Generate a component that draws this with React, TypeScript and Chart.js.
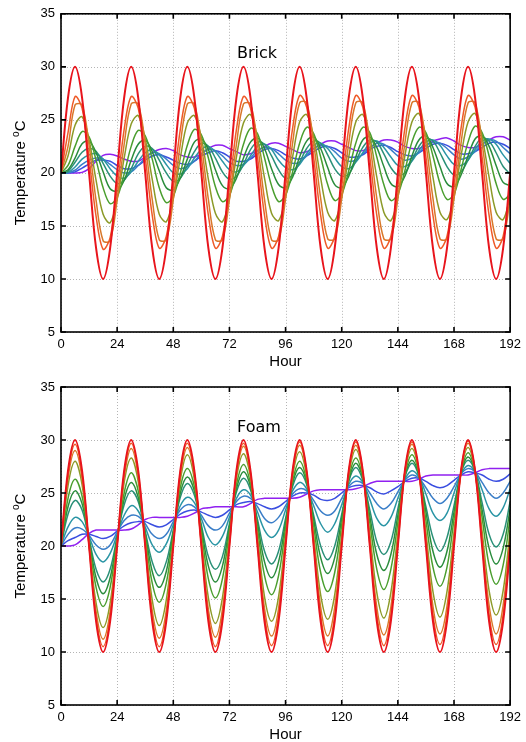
import React, { useEffect, useRef } from "react";
import { Chart, registerables } from "chart.js";

Chart.register(...registerables);

// ---------- data ----------
const HOURS = [0,3,6,9,12,15,18,21,24,27,30,33,36,39,42,45,48,51,54,57,60,63,66,69,72,75,78,81,84,87,90,93,96,99,102,105,108,111,114,117,120,123,126,129,132,135,138,141,144,147,150,153,156,159,162,165,168,171,174,177,180,183,186,189,192];
const X_TICKS = [0,24,48,72,96,120,144,168,192];
const Y_TICKS = [5,10,15,20,25,30,35];

const SURFACE = [20,27.1,30,27.1,20,12.9,10,12.9, 20,27.1,30,27.1,20,12.9,10,12.9, 20,27.1,30,27.1,20,12.9,10,12.9, 20,27.1,30,27.1,20,12.9,10,12.9, 20,27.1,30,27.1,20,12.9,10,12.9, 20,27.1,30,27.1,20,12.9,10,12.9, 20,27.1,30,27.1,20,12.9,10,12.9, 20,27.1,30,27.1,20,12.9,10,12.9, 20];

// Brick layers (surface -> deepest)
const BRICK_1 = [20,23.8,27.2,26.1,21.4,15.9,12.8,13.9, 18.6,24.1,27.2,26.1,21.5,16.0,12.9,14.0, 18.6,24.1,27.2,26.1,21.5,16.0,12.9,14.0, 18.6,24.1,27.2,26.1,21.5,16.0,12.9,14.0, 18.7,24.2,27.3,26.2,21.5,16.0,12.9,14.0, 18.7,24.2,27.3,26.2,21.5,16.0,12.9,14.0, 18.7,24.2,27.3,26.2,21.5,16.0,12.9,14.0, 18.7,24.2,27.3,26.2,21.5,16.0,12.9,14.0, 18.7];
const BRICK_2 = [20,22.5,26.4,26.4,22.6,17.4,13.6,13.6, 17.5,22.7,26.5,26.5,22.7,17.5,13.7,13.7, 17.5,22.7,26.5,26.5,22.7,17.5,13.7,13.7, 17.5,22.7,26.5,26.5,22.7,17.5,13.7,13.7, 17.6,22.8,26.6,26.6,22.8,17.6,13.8,13.8, 17.6,22.8,26.6,26.6,22.8,17.6,13.8,13.8, 17.6,22.8,26.6,26.6,22.8,17.6,13.8,13.8, 17.6,22.8,26.6,26.6,22.8,17.6,13.8,13.8, 17.6];
const BRICK_3 = [20,21.6,24.5,25.3,23.1,19.3,16.1,15.3, 17.5,21.4,24.6,25.4,23.2,19.4,16.1,15.4, 17.6,21.4,24.7,25.4,23.3,19.4,16.2,15.4, 17.6,21.5,24.7,25.5,23.3,19.5,16.2,15.5, 17.7,21.5,24.8,25.5,23.4,19.5,16.3,15.5, 17.7,21.5,24.8,25.5,23.4,19.6,16.3,15.5, 17.7,21.6,24.8,25.6,23.4,19.6,16.3,15.6, 17.7,21.6,24.8,25.6,23.4,19.6,16.3,15.6, 17.8];
const BRICK_4 = [20,20.7,22.5,23.9,23.4,21.2,18.6,17.1, 17.7,19.9,22.5,24.0,23.5,21.3,18.6,17.2, 17.8,20.0,22.6,24.1,23.6,21.4,18.7,17.3, 17.9,20.1,22.7,24.2,23.7,21.4,18.8,17.3, 17.9,20.1,22.8,24.3,23.7,21.5,18.9,17.4, 18.0,20.2,22.8,24.3,23.8,21.5,18.9,17.4, 18.0,20.2,22.9,24.3,23.8,21.6,19.0,17.5, 18.0,20.3,22.9,24.4,23.8,21.6,19.0,17.5, 18.0];
const BRICK_5 = [20,20.3,21.4,22.75,23.0,21.9,20.1,18.5, 18.3,19.3,21.2,22.7,23.1,22.0,20.2,18.6, 18.4,19.5,21.3,22.9,23.2,22.2,20.3,18.8, 18.5,19.5,21.4,22.9,23.3,22.3,20.4,18.9, 18.6,19.6,21.5,23.0,23.4,22.3,20.5,18.9, 18.6,19.7,21.5,23.1,23.4,22.4,20.6,19.0, 18.7,19.7,21.6,23.1,23.5,22.4,20.6,19.0, 18.7,19.8,21.6,23.2,23.5,22.5,20.7,19.1, 18.8];
const BRICK_6 = [20,20.15,21.0,21.95,22.3,22.05,20.9,19.7, 19.0,19.3,20.4,21.8,22.5,22.3,21.2,20.0, 19.2,19.5,20.7,22.0,22.8,22.5,21.4,20.1, 19.4,19.7,20.8,22.2,22.9,22.7,21.6,20.3, 19.5,19.8,21.0,22.3,23.0,22.8,21.7,20.4, 19.7,19.9,21.1,22.4,23.1,22.9,21.8,20.5, 19.8,20.0,21.2,22.5,23.2,23.0,21.9,20.6, 19.8,20.1,21.2,22.5,23.3,23.0,21.9,20.6, 19.9];
const BRICK_7 = [20,20.05,20.55,21.3,21.7,21.8,21.3,20.4, 19.7,19.5,20.1,21.1,21.9,22.2,21.7,20.8, 20.0,19.9,20.4,21.4,22.2,22.5,22.0,21.1, 20.3,20.1,20.7,21.6,22.5,22.7,22.2,21.2, 20.5,20.3,20.8,21.8,22.6,22.8,22.3,21.4, 20.6,20.4,21.0,21.9,22.8,23.0,22.4,21.5, 20.7,20.6,21.1,22.1,22.9,23.1,22.6,21.6, 20.8,20.7,21.2,22.2,23.0,23.2,22.7,21.7, 20.9];
const BRICK_8 = [20,20.02,20.25,20.8,21.2,21.4,21.3,20.8, 20.3,20.0,20.1,20.7,21.4,21.9,21.8,21.3, 20.7,20.4,20.6,21.1,21.8,22.2,22.1,21.6, 21.0,20.7,20.8,21.4,22.1,22.4,22.3,21.8, 21.2,20.9,21.0,21.6,22.3,22.6,22.5,22.0, 21.4,21.1,21.2,21.8,22.4,22.8,22.7,22.2, 21.6,21.2,21.4,21.9,22.6,22.9,22.8,22.3, 21.7,21.3,21.5,22.0,22.7,23.1,23.0,22.4, 21.8];
const BRICK_9 = [20,20.0,20.1,20.45,20.85,21.2,21.2,21.1, 20.7,20.4,20.4,20.7,21.2,21.6,21.7,21.5, 21.2,20.9,20.8,21.1,21.6,21.9,22.1,21.9, 21.5,21.1,21.1,21.3,21.8,22.2,22.3,22.1, 21.7,21.4,21.3,21.6,22.0,22.4,22.5,22.3, 21.9,21.5,21.5,21.7,22.2,22.5,22.6,22.4, 22.0,21.7,21.6,21.9,22.3,22.7,22.8,22.6, 22.2,21.8,21.8,22.0,22.4,22.8,22.9,22.7, 22.3];
const BRICK_10 = [20,20,20,20.05,20.4,21.1,21.65,21.75, 21.6,21.3,21.1,21.1,21.5,21.9,22.2,22.3, 22.1,21.7,21.5,21.5,21.8,22.3,22.6,22.6, 22.3,22.0,21.7,21.8,22.1,22.5,22.8,22.8, 22.5,22.2,21.9,22.0,22.3,22.7,23.0,23.0, 22.7,22.4,22.1,22.1,22.4,22.8,23.1,23.1, 22.9,22.5,22.3,22.3,22.6,23.0,23.2,23.3, 23.0,22.6,22.4,22.4,22.7,23.1,23.4,23.4, 23.1];

// Foam layers (surface -> deepest)
const FOAM_1 = [20,26.8,29.6,26.8,20.0,13.3,10.5,13.3, 20.1,26.8,29.7,26.9,20.1,13.3,10.5,13.3, 20.1,26.9,29.7,26.9,20.1,13.4,10.5,13.4, 20.1,26.9,29.7,26.9,20.2,13.4,10.6,13.4, 20.2,27.0,29.8,27.0,20.2,13.4,10.6,13.4, 20.2,27.0,29.8,27.0,20.2,13.5,10.6,13.5, 20.2,27.0,29.8,27.0,20.3,13.5,10.7,13.5, 20.3,27.1,29.9,27.1,20.3,13.5,10.7,13.5, 20.3];
const FOAM_2 = [20,26.4,29.0,26.4,20.1,13.8,11.2,13.8, 20.2,26.5,29.2,26.6,20.2,13.9,11.3,13.9, 20.3,26.6,29.3,26.7,20.3,14.0,11.4,14.0, 20.4,26.7,29.4,26.8,20.4,14.1,11.5,14.1, 20.5,26.8,29.5,26.9,20.5,14.2,11.5,14.2, 20.5,26.9,29.5,26.9,20.6,14.2,11.6,14.2, 20.6,27.0,29.6,27.0,20.7,14.3,11.7,14.3, 20.7,27.0,29.7,27.1,20.7,14.4,11.7,14.4, 20.7];
const FOAM_3 = [20,25.7,28.0,25.8,20.2,14.6,12.3,14.6, 20.3,26.0,28.3,26.1,20.5,14.9,12.5,14.9, 20.5,26.2,28.6,26.3,20.7,15.1,12.7,15.1, 20.7,26.4,28.7,26.5,20.9,15.2,12.9,15.2, 20.9,26.6,28.9,26.6,21.0,15.4,13.1,15.4, 21.1,26.7,29.1,26.8,21.2,15.6,13.2,15.6, 21.2,26.9,29.2,26.9,21.3,15.7,13.3,15.7, 21.3,27.0,29.3,27.0,21.4,15.8,13.5,15.8, 21.5];
const FOAM_4 = [20,24.5,26.3,24.7,20.4,16.1,14.3,16.1, 20.6,25.0,26.9,25.2,20.9,16.5,14.7,16.5, 21.0,25.5,27.3,25.6,21.3,16.9,15.1,16.9, 21.4,25.8,27.7,25.9,21.6,17.2,15.4,17.2, 21.7,26.1,28.0,26.2,21.9,17.5,15.7,17.5, 22.0,26.4,28.3,26.5,22.2,17.8,15.9,17.8, 22.2,26.7,28.6,26.8,22.4,18.0,16.2,18.0, 22.5,26.9,28.8,27.0,22.7,18.2,16.4,18.2, 22.7];
const FOAM_5 = [20,23.7,25.2,24.0,20.6,17.0,15.5,17.0, 20.7,24.4,26.0,24.6,21.2,17.6,16.1,17.6, 21.3,25.0,26.5,25.2,21.7,18.1,16.6,18.1, 21.8,25.4,27.0,25.6,22.1,18.5,17.0,18.5, 22.2,25.9,27.4,26.0,22.5,18.9,17.4,18.9, 22.6,26.2,27.8,26.4,22.8,19.2,17.7,19.2, 22.9,26.6,28.1,26.7,23.2,19.5,18.0,19.5, 23.2,26.9,28.4,27.0,23.4,19.8,18.3,19.8, 23.5];
const FOAM_6 = [20,23.0,24.3,23.4,20.7,17.8,16.6,17.8, 20.9,23.9,25.2,24.2,21.4,18.5,17.2,18.5, 21.5,24.6,25.9,24.8,22.0,19.0,17.8,19.0, 22.1,25.1,26.4,25.3,22.5,19.5,18.3,19.5, 22.6,25.6,26.9,25.8,22.9,20.0,18.7,20.0, 23.0,26.1,27.4,26.2,23.4,20.4,19.2,20.4, 23.5,26.5,27.8,26.6,23.7,20.8,19.5,20.8, 23.8,26.9,28.1,27.0,24.1,21.1,19.9,21.1, 24.2];
const FOAM_7 = [20,21.8,22.7,22.3,20.9,19.2,18.5,19.3, 21.1,22.9,23.8,23.3,21.8,20.1,19.4,20.2, 22.0,23.8,24.6,24.1,22.6,20.8,20.1,20.9, 22.7,24.5,25.3,24.8,23.2,21.5,20.8,21.5, 23.4,25.2,26.0,25.4,23.8,22.1,21.3,22.1, 23.9,25.8,26.6,26.0,24.4,22.6,21.9,22.7, 24.5,26.3,27.1,26.5,24.9,23.1,22.4,23.1, 25.0,26.8,27.6,27.0,25.3,23.5,22.8,23.6, 25.4];
const FOAM_8 = [20,21.1,21.7,21.6,21.0,20.1,19.7,20.1, 21.3,22.4,22.9,22.8,22.1,21.1,20.7,21.1, 22.3,23.4,23.9,23.7,22.9,21.9,21.5,21.9, 23.1,24.2,24.7,24.5,23.7,22.6,22.2,22.7, 23.8,24.9,25.4,25.2,24.3,23.3,22.9,23.3, 24.5,25.6,26.1,25.9,25.0,24.0,23.5,24.0, 25.1,26.2,26.7,26.4,25.5,24.5,24.0,24.5, 25.6,26.8,27.3,27.0,26.0,25.0,24.5,25.0, 26.1];
const FOAM_9 = [20,20.5,20.8,21.1,21.1,20.9,20.7,20.9, 21.4,21.9,22.2,22.3,22.3,22.0,21.8,22.0, 22.5,23.0,23.3,23.4,23.2,22.9,22.7,22.9, 23.4,23.9,24.1,24.2,24.0,23.7,23.5,23.7, 24.2,24.7,25.0,25.0,24.8,24.4,24.3,24.5, 25.0,25.5,25.7,25.7,25.5,25.1,24.9,25.2, 25.6,26.1,26.4,26.4,26.1,25.7,25.5,25.7, 26.2,26.7,27.0,26.9,26.7,26.3,26.1,26.3, 26.8];
const FOAM_10 = [20,20,20.1,20.6,21.2,21.5,21.5,21.5, 21.5,21.5,21.6,22.0,22.5,22.7,22.7,22.7, 22.7,22.7,22.8,23.1,23.5,23.6,23.7,23.7, 23.7,23.7,23.7,24.0,24.4,24.5,24.5,24.5, 24.5,24.5,24.6,24.9,25.2,25.3,25.3,25.3, 25.3,25.3,25.4,25.6,25.9,26.1,26.1,26.1, 26.1,26.1,26.1,26.3,26.6,26.7,26.7,26.7, 26.7,26.7,26.7,26.9,27.2,27.3,27.3,27.3, 27.3];

const BRICK_LAYERS = [SURFACE, BRICK_1, BRICK_2, BRICK_3, BRICK_4, BRICK_5, BRICK_6, BRICK_7, BRICK_8, BRICK_9, BRICK_10];
const FOAM_LAYERS = [SURFACE, FOAM_1, FOAM_2, FOAM_3, FOAM_4, FOAM_5, FOAM_6, FOAM_7, FOAM_8, FOAM_9, FOAM_10];

const COLORS = ["#e8141c", "#ef5a28", "#d8782a", "#8c9a28", "#4a9e2e", "#2a8c3c", "#2a9078", "#2a95a5", "#3a7ec8", "#3a4ee0", "#9020f0"];

const TICK_FONT = '"Liberation Sans", Arial, sans-serif';

// ---------- drawing helpers ----------
const framePlugin = {
  id: "gnuframe",
  beforeDatasetsDraw(chart: any) {
    const { ctx, chartArea: a, scales } = chart;
    const x = scales.x, y = scales.y;
    ctx.save();
    ctx.strokeStyle = "#b4b4b4";
    ctx.lineWidth = 1;
    ctx.setLineDash([1, 2]);
    ctx.beginPath();
    for (const v of X_TICKS) {
      const px = Math.round(x.getPixelForValue(v)) + 0.5;
      ctx.moveTo(px, a.top);
      ctx.lineTo(px, a.bottom);
    }
    for (const v of Y_TICKS) {
      const py = Math.round(y.getPixelForValue(v)) + 0.5;
      ctx.moveTo(a.left, py);
      ctx.lineTo(a.right, py);
    }
    ctx.stroke();
    ctx.restore();
  },
  afterDatasetsDraw(chart: any, _args: any, opts: any) {
    const { ctx, chartArea: a, scales } = chart;
    const x = scales.x, y = scales.y;
    ctx.save();
    ctx.strokeStyle = "#000";
    ctx.lineWidth = 1.6;
    ctx.setLineDash([]);
    ctx.strokeRect(a.left, a.top, a.right - a.left, a.bottom - a.top);
    const tl = 5;
    ctx.beginPath();
    for (const v of X_TICKS) {
      const px = x.getPixelForValue(v);
      ctx.moveTo(px, a.bottom);
      ctx.lineTo(px, a.bottom - tl);
      ctx.moveTo(px, a.top);
      ctx.lineTo(px, a.top + tl);
    }
    for (const v of Y_TICKS) {
      const py = y.getPixelForValue(v);
      ctx.moveTo(a.left, py);
      ctx.lineTo(a.left + tl, py);
      ctx.moveTo(a.right, py);
      ctx.lineTo(a.right - tl, py);
    }
    ctx.stroke();

    // panel title
    ctx.fillStyle = "#000";
    ctx.font = '16px "DejaVu Sans", sans-serif';
    ctx.textAlign = "left";
    ctx.textBaseline = "alphabetic";
    ctx.fillText(opts.title, 237, a.top + opts.titleDy);

    // x axis title
    ctx.font = `15px ${TICK_FONT}`;
    ctx.textAlign = "center";
    ctx.textBaseline = "middle";
    ctx.fillText("Hour", (a.left + a.right) / 2, a.bottom + 30);

    // y axis title with superscript o
    ctx.translate(21, (a.top + a.bottom) / 2);
    ctx.rotate(-Math.PI / 2);
    ctx.textAlign = "left";
    ctx.textBaseline = "middle";
    ctx.font = `15px ${TICK_FONT}`;
    const t1 = "Temperature ";
    const w1 = ctx.measureText(t1).width;
    const wc = ctx.measureText("C").width;
    ctx.font = `10px ${TICK_FONT}`;
    const wo = ctx.measureText("o").width;
    const start = -(w1 + wo + wc) / 2;
    ctx.font = `15px ${TICK_FONT}`;
    ctx.fillText(t1, start, 0);
    ctx.font = `10px ${TICK_FONT}`;
    ctx.fillText("o", start + w1, -5);
    ctx.font = `15px ${TICK_FONT}`;
    ctx.fillText("C", start + w1 + wo, 0);
    ctx.restore();
  },
};

function Panel(props: { layers: number[][]; title: string; top: number; padTop: number; xAxisH: number; titleDy: number }) {
  const ref = useRef<HTMLCanvasElement>(null);
  useEffect(() => {
    const canvas = ref.current;
    if (!canvas) return;
    const datasets = props.layers.map((vals, i) => ({
      label: `layer ${i}`,
      data: HOURS.map((h, j) => ({ x: h, y: vals[j] })),
      borderColor: COLORS[i],
      backgroundColor: COLORS[i],
      borderWidth: i === 0 ? 2 : 1.5,
      pointRadius: 0,
      tension: 0.35,
      fill: false,
    }));
    const chart = new Chart(canvas, {
      type: "line",
      data: { datasets },
      plugins: [framePlugin],
      options: {
        animation: false,
        responsive: false,
        devicePixelRatio: 1,
        layout: { padding: { top: props.padTop, right: 11, bottom: 0, left: 0 } },
        plugins: {
          legend: { display: false },
          tooltip: { enabled: false },
          gnuframe: { title: props.title, titleDy: props.titleDy },
        } as any,
        scales: {
          x: {
            type: "linear",
            min: 0,
            max: 192,
            grid: { display: false, drawTicks: false },
            border: { display: false },
            ticks: {
              stepSize: 24,
              autoSkip: false,
              maxRotation: 0,
              padding: 5,
              color: "#000",
              font: { family: TICK_FONT, size: 13 },
            },
            afterFit: (s: any) => {
              s.height = props.xAxisH;
            },
          },
          y: {
            type: "linear",
            min: 5,
            max: 35,
            grid: { display: false, drawTicks: false },
            border: { display: false },
            ticks: {
              stepSize: 5,
              padding: 6,
              color: "#000",
              font: { family: TICK_FONT, size: 13 },
            },
            afterFit: (s: any) => {
              s.width = 61;
            },
          },
        },
      } as any,
    });
    return () => chart.destroy();
  }, []);
  return (
    <canvas
      ref={ref}
      width={526}
      height={371}
      style={{ position: "absolute", left: 0, top: props.top, width: 526, height: 371 }}
    />
  );
}

export default function App() {
  return (
    <div style={{ position: "absolute", left: 0, top: 0, width: 526, height: 742, background: "#fff" }}>
      <Panel layers={BRICK_LAYERS} title="Brick" top={0} padTop={13} xAxisH={39} titleDy={44} />
      <Panel layers={FOAM_LAYERS} title="Foam" top={371} padTop={16} xAxisH={37} titleDy={45} />
    </div>
  );
}
